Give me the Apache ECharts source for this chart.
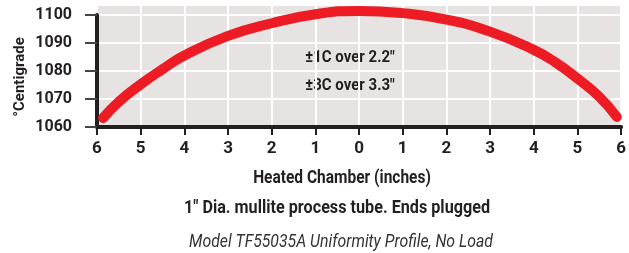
<!DOCTYPE html>
<html><head><meta charset="utf-8">
<script src="https://cdn.jsdelivr.net/npm/echarts@6/dist/echarts.min.js"></script>
<style>html,body{margin:0;padding:0;background:#fff}#c{width:629px;height:253px}</style>
</head><body><div id="c"></div>
<script>
const positions = [-5.86, -5.5, -5, -4.5, -4, -3, -2, -1, 0, 1, 2, 3, 4, 4.5, 5, 5.5, 5.9];
const temps = [1063.2, 1069.0, 1075.2, 1080.6, 1085.5, 1092.5, 1097.0, 1100.2, 1101.4, 1100.6, 1098.3, 1094, 1087.5, 1083, 1077.3, 1070.8, 1063.6];
const xTickLabels = ['6','5','4','3','2','1','0','1','2','3','4','5','6'];
const yTickValues = [1060, 1070, 1080, 1090, 1100];
const notes = ['\u00b11C over 2.2"', '\u00b13C over 3.3"'];
const xTitle = 'Heated Chamber (inches)';
const yTitle = '\u00b0Centigrade';
const sub1 = '1" Dia. mullite process tube. Ends plugged';
const sub2 = 'Model TF55035A Uniformity Profile, No Load';

const FONT = 'Roboto, "Liberation Sans", sans-serif';
const TXT = '#231f20';
const chart = echarts.init(document.getElementById('c'), null, {renderer:'canvas'});
function txt(text, x, y, font, fill, extra){
  return Object.assign({type:'text', x:x, y:y, scaleY:1.15, style:{text:text, font:font, fill:fill, textAlign:'center', textVerticalAlign:'middle'}}, extra||{});
}
chart.setOption({
  animation:false,
  grid:[
    {left:97, right:2, top:5, bottom:126, show:true, backgroundColor:'#e7e3e3', borderWidth:0},
    {left:97, right:2, top:15, bottom:126, show:false}
  ],
  xAxis:[
    {gridIndex:0, type:'value', min:-6, max:6, interval:1,
     axisLine:{show:true, onZero:false, lineStyle:{color:TXT, width:4}},
     axisTick:{show:true, length:8, lineStyle:{color:TXT, width:2}},
     axisLabel:{margin:13, fontFamily:FONT, fontWeight:'bold', fontSize:17, color:TXT,
       formatter:(v)=>xTickLabels[Math.round(v+6)]},
     splitLine:{show:true, lineStyle:{color:'#ffffff', width:2}}},
    {gridIndex:1, type:'value', min:-6, max:6, show:false}
  ],
  yAxis:[
    {gridIndex:0, type:'value', min:1060, max:1103.5, interval:10,
     axisLine:{show:false}, axisTick:{show:false}, axisLabel:{show:false},
     splitLine:{show:true, lineStyle:{color:'#ffffff', width:2}}},
    {gridIndex:1, type:'value', min:yTickValues[0], max:yTickValues[yTickValues.length-1], interval:10,
     axisLine:{show:true, onZero:false, lineStyle:{color:TXT, width:4}},
     axisTick:{show:true, length:12, lineStyle:{color:'#444', width:2}},
     axisLabel:{margin:25, fontFamily:FONT, fontWeight:'bold', fontSize:16, color:TXT, formatter:(v)=>String(v)},
     splitLine:{show:false}}
  ],
  series:[{
    type:'line', xAxisIndex:0, yAxisIndex:0, smooth:0.5, symbol:'none',
    data: positions.map((p,i)=>[p, temps[i]]),
    lineStyle:{color:'#ed1c24', width:10, cap:'round', join:'round'}
  }],
  graphic:[
    txt(notes[0], 350, 58, 'bold 15px '+FONT, TXT),
    txt(notes[1], 350, 86, 'bold 15px '+FONT, TXT),
    txt(xTitle, 342, 179, 'bold 15.5px '+FONT, TXT),
    txt(sub1, 337, 208, 'bold 16.2px '+FONT, TXT),
    txt(sub2, 341, 242, 'italic 15.8px '+FONT, '#333'),
    txt(yTitle, 20, 77, 'bold 15px '+FONT, TXT, {rotation:Math.PI/2, scaleY:1, scaleX:1})
  ]
});
</script></body></html>
